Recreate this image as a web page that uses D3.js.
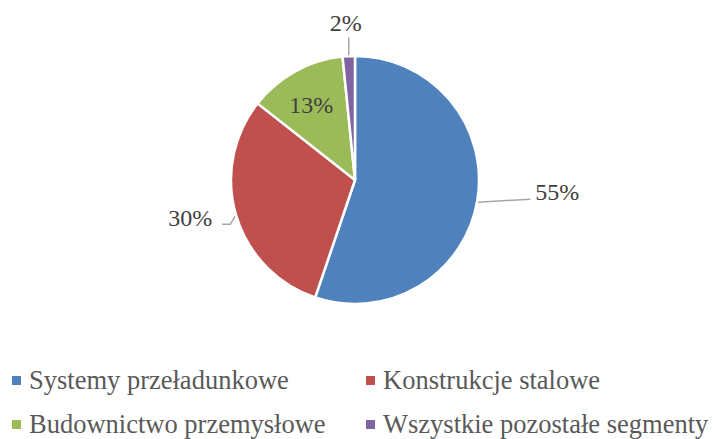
<!DOCTYPE html>
<html>
<head>
<meta charset="utf-8">
<script src="https://cdn.jsdelivr.net/npm/d3@7"></script>
<style>
  body { margin: 0; background: #fff; }
  text { font-family: 'Times New Roman', 'Liberation Serif', Tinos, serif; }
</style>
</head>
<body>
<div id="chart"></div>
<script>
// segment shares (%)
var categories = ["Systemy przeładunkowe", "Konstrukcje stalowe", "Budownictwo przemysłowe", "Wszystkie pozostałe segmenty"];
var shares = [55.2, 30.4, 12.8, 1.6];
var colors = ["#4F81BD", "#C0504D", "#9BBB59", "#8064A2"];

var W = 713, H = 439;
var cx = 355, cy = 180, R = 124;

var svg = d3.select('#chart').append('svg')
    .attr('width', W).attr('height', H);

var data = categories.map(function(c, i){ return {name: c, value: shares[i], color: colors[i]}; });

var pie = d3.pie().sort(null).value(function(d){ return d.value; });
var arcs = pie(data);

var arc = d3.arc().innerRadius(0).outerRadius(R);
var edge = d3.arc().innerRadius(R).outerRadius(R);

var g = svg.append('g').attr('transform', 'translate(' + cx + ',' + cy + ')');

g.selectAll('path').data(arcs)
    .enter()
    .append('path')
    .attr('d', arc)
    .attr('fill', function(d){ return d.data.color; })
    .attr('stroke', '#fff')
    .attr('stroke-width', 2.5)
    .attr('stroke-linejoin', 'round');

// label placement relative to the slice edge point (or inner point for 'in')
// line: leader line vertices, tx/ty: text anchor (baseline)
var labelCfg = [
    {line: [[1, 2], [53, -1]], tx: 58, ty: 0, anchor: 'start'},
    {line: [[-1, 1], [-6, 9], [-14, 9]], tx: -24, ty: 11, anchor: 'end'},
    {inner: 0.7, tx: -2, ty: 9, anchor: 'middle'},
    {line: [[0, -1], [0, -19]], tx: -3, ty: -25, anchor: 'middle'}
];

arcs.forEach(function(d, i){
    var cfg = labelCfg[i];
    var txt = Math.round(d.data.value) + '%';
    var p;
    if(cfg.inner){
        p = d3.arc().innerRadius(R*cfg.inner).outerRadius(R*cfg.inner).centroid(d);
    } else {
        p = edge.centroid(d);
        var pts = cfg.line.map(function(o){ return [p[0] + o[0], p[1] + o[1]]; });
        g.append('path')
            .attr('d', d3.line()(pts))
            .attr('fill', 'none')
            .attr('stroke', '#A6A6A6')
            .attr('stroke-width', 1.5);
    }
    g.append('text')
        .attr('x', p[0] + cfg.tx).attr('y', p[1] + cfg.ty)
        .attr('text-anchor', cfg.anchor)
        .attr('font-size', 24)
        .attr('fill', '#404040')
        .text(txt);
});

// legend, 2 columns x 2 rows
var legX = [12, 366], legY = [389, 433];
var leg = svg.selectAll('.leg').data(data)
    .enter()
    .append('g')
    .attr('class', 'leg')
    .attr('transform', function(d, i){ return 'translate(' + legX[i%2] + ',' + legY[Math.floor(i/2)] + ')'; });

leg.append('rect')
    .attr('x', 0).attr('y', -13).attr('width', 9).attr('height', 9)
    .attr('fill', function(d){ return d.color; });

leg.append('text')
    .attr('x', 17).attr('y', 0)
    .attr('font-size', 26.5)
    .attr('fill', '#595959')
    .text(function(d){ return d.name; });
</script>
</body>
</html>
